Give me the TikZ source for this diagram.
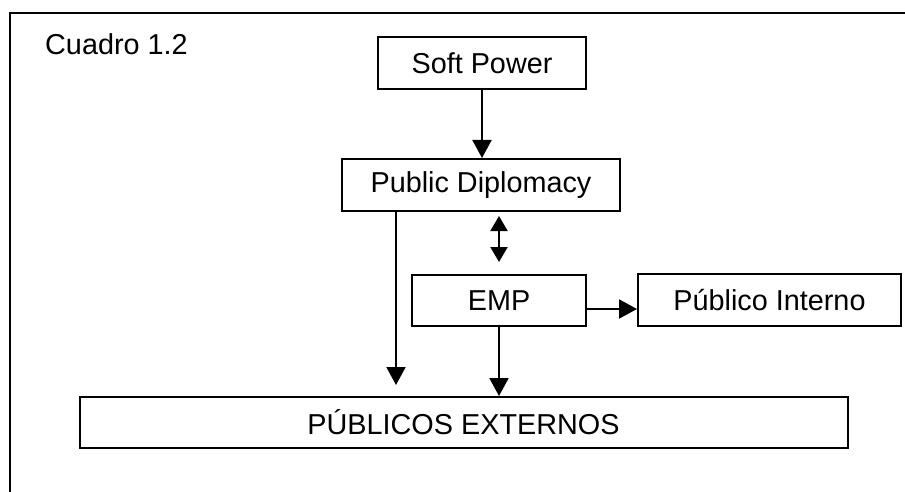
\documentclass[tikz,border=0pt]{standalone}
\usepackage{fontspec}
\setmainfont{Liberation Sans}
\usetikzlibrary{arrows.meta}
\begin{document}
\begin{tikzpicture}[x=1pt,y=-1pt,
  every node/.style={font=\fontsize{28.8}{32}\selectfont, text=black},
  box/.style={draw=black, line width=2pt, minimum height=52pt, inner sep=0pt},
  conn/.style={line width=2pt, draw=black},
  arr/.style={conn, -{Triangle[width=19pt,length=18pt]}},
  darr/.style={conn, {Triangle[width=17pt,length=15pt]}-{Triangle[width=17pt,length=15pt]}}]
\useasboundingbox (0,0) rectangle (905,492);
% frame
\draw[conn] (10,492) -- (10,13) -- (905,13);
\node[anchor=base west, inner sep=0pt] (title) at (45,55) {Cuadro 1.2};
% boxes
\node[box, minimum width=208pt] (sp) at (482,63) {Soft Power};
\node[box, minimum width=278pt] (pd) at (481,185) {Public Diplomacy};
\node[box, minimum width=174pt, minimum height=51pt] (emp) at (499,300.5) {EMP};
\node[box, minimum width=263pt] (pi) at (769.5,300) {Público Interno};
\node[box, minimum width=768pt, minimum height=51pt] (pe) at (463.5,422.5) {PÚBLICOS EXTERNOS};
% connectors
\draw[arr] (sp.south) -- (sp.south |- pd.north);
\draw[darr, shorten <=4pt, shorten >=12pt] (emp.north |- pd.south) -- (emp.north);
\coordinate (e1) at ([yshift=-8.5pt]emp.east);
\draw[arr] (e1) -- (e1 -| pi.west);
\draw[arr] (emp.south) -- (emp.south |- pe.north);
\coordinate (lt) at (396,385);
\draw[arr] (lt |- pd.south) -- (lt);
\end{tikzpicture}
\end{document}
